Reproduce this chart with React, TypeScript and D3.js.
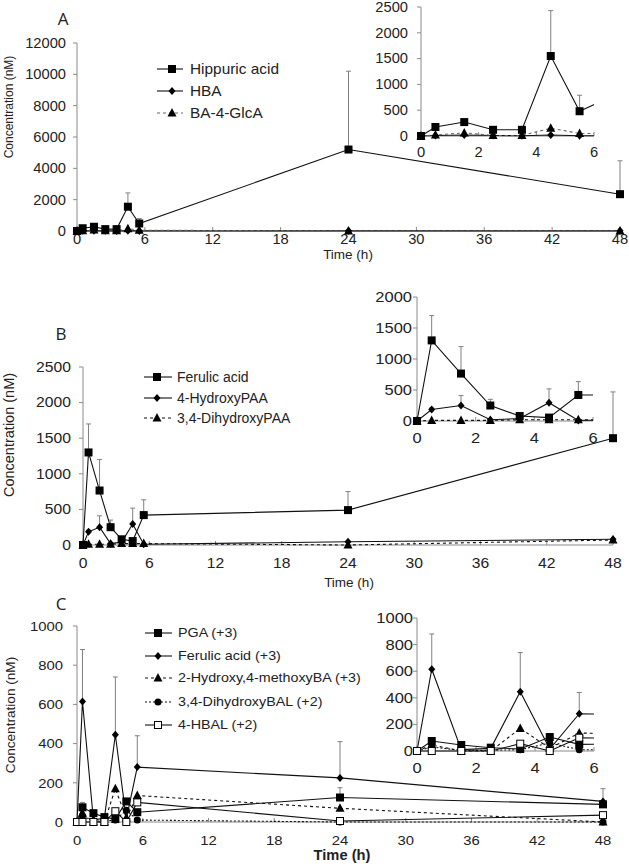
import React from 'react';
import * as d3 from 'd3';

// ---------- data ----------
const TIME = [0, 0.5, 1.5, 2.5, 3.5, 4.5, 5.5, 24, 48];
const X_TICKS = [0, 6, 12, 18, 24, 30, 36, 42, 48];
const INSET_X_TICKS = [0, 2, 4, 6];

// Panel A
const A_HIPPURIC = [0, 175, 270, 120, 120, 1550, 480, 5200, 2350];
const A_HIPPURIC_ERR = [null, null, null, null, null, 2430, 790, 10200, 4480];
const A_HBA = [0, 10, 20, 10, 5, 20, 5, 10, 10];
const A_BA4GLCA = [0, 20, 60, 10, 10, 150, 50, 0, 0];
const A_Y_TICKS = [0, 2000, 4000, 6000, 8000, 10000, 12000];
const A_INSET_Y_TICKS = [0, 500, 1000, 1500, 2000, 2500];

// Panel B
const B_FERULIC = [0, 1300, 765, 250, 80, 55, 420, 490, 1500];
const B_FERULIC_ERR = [null, 1700, 1200, 350, null, null, 635, 750, 2150];
const B_HPAA = [0, 185, 250, 20, 40, 295, 10, 45, 80];
const B_HPAA_ERR = [null, 210, 410, null, null, 518, null, null, null];
const B_DHPAA = [0, 10, 10, 10, 20, 20, 20, 0, 70];
const B_Y_TICKS = [0, 500, 1000, 1500, 2000, 2500];
const B_INSET_Y_TICKS = [0, 500, 1000, 1500, 2000];

// Panel C
const C_PGA = [0, 75, 45, 25, 15, 105, 50, 125, 90];
const C_PGA_ERR = [null, 100, null, null, null, null, null, 175, null];
const C_FERULIC = [0, 615, 10, 20, 445, 15, 280, 225, 105];
const C_FERULIC_ERR = [null, 880, null, null, 740, null, 440, 410, 170];
const C_HMBA = [0, 45, 0, 0, 170, 20, 135, 70, 0];
const C_DHBAL = [0, 30, 5, 5, 10, 60, 10, 0, 0];
const C_HBAL = [0, 0, 0, 0, 55, 0, 100, 5, 35];
const C_Y_TICKS = [0, 200, 400, 600, 800, 1000];
const C_INSET_Y_TICKS = [0, 200, 400, 600, 800, 1000];

// ---------- series definitions ----------
type Marker = 'square' | 'diamond' | 'triangle' | 'circle' | 'hollowSquare';
interface Series { name: string; values: number[]; err?: (number | null)[]; marker: Marker; dash?: string; stroke?: string; }

const SERIES_A: Series[] = [
  { name: 'Hippuric acid', values: A_HIPPURIC, err: A_HIPPURIC_ERR, marker: 'square' },
  { name: 'HBA', values: A_HBA, marker: 'diamond' },
  { name: 'BA-4-GlcA', values: A_BA4GLCA, marker: 'triangle', dash: '3,3', stroke: '#666' },
];
const SERIES_B: Series[] = [
  { name: 'Ferulic acid', values: B_FERULIC, err: B_FERULIC_ERR, marker: 'square' },
  { name: '4-HydroxyPAA', values: B_HPAA, err: B_HPAA_ERR, marker: 'diamond' },
  { name: '3,4-DihydroxyPAA', values: B_DHPAA, marker: 'triangle', dash: '3,3' },
];
const SERIES_C: Series[] = [
  { name: 'PGA (+3)', values: C_PGA, err: C_PGA_ERR, marker: 'square' },
  { name: 'Ferulic acid (+3)', values: C_FERULIC, err: C_FERULIC_ERR, marker: 'diamond' },
  { name: '2-Hydroxy,4-methoxyBA (+3)', values: C_HMBA, marker: 'triangle', dash: '3,3' },
  { name: '3,4-DihydroxyBAL (+2)', values: C_DHBAL, marker: 'circle', dash: '2,2' },
  { name: '4-HBAL (+2)', values: C_HBAL, marker: 'hollowSquare' },
];

// ---------- layout ----------
const PANELS = [
  {
    id: 'A', series: SERIES_A, letter: { x: 63, y: 18 },
    main: { x0: 77, x1: 620, y0: 231, y1: 43, yTicks: A_Y_TICKS, labelRight: 66, xLabelY: 239, fs: 14, sx: 1.05 },
    title: { x: 348, y: 254, fs: 13.5, sx: 1.0, bold: false }, ytitle: { x: 9, y: 107, fs: 12 },
    inset: { x0: 421, x1: 594, y0: 136, y1: 7, yTicks: A_INSET_Y_TICKS, labelRight: 408, xLabelY: 152, fs: 14, sx: 1.05 },
    legend: { x0: 157, x1: 183, mx: 172, tx: 190, ys: [69, 91, 113], fs: 14, sx: 1.1 },
  },
  {
    id: 'B', series: SERIES_B, letter: { x: 61, y: 333 },
    main: { x0: 83, x1: 613, y0: 545, y1: 367, yTicks: B_Y_TICKS, labelRight: 71, xLabelY: 563, fs: 14, sx: 1.12 },
    title: { x: 349, y: 582, fs: 13.5, sx: 1.0, bold: false }, ytitle: { x: 9, y: 435, fs: 14.5 },
    inset: { x0: 417, x1: 593, y0: 421, y1: 297, yTicks: B_INSET_Y_TICKS, labelRight: 412, xLabelY: 438, fs: 14, sx: 1.18 },
    legend: { x0: 144, x1: 172, mx: 157, tx: 177, ys: [377, 398, 418], fs: 14, sx: 1.0 },
  },
  {
    id: 'C', series: SERIES_C, letter: { x: 61, y: 603 },
    main: { x0: 77, x1: 603, y0: 822, y1: 626, yTicks: C_Y_TICKS, labelRight: 63, xLabelY: 840, fs: 13.5, sx: 1.1 },
    title: { x: 342, y: 855, fs: 14, sx: 1.05, bold: true }, ytitle: { x: 10, y: 715, fs: 13.6 },
    inset: { x0: 417, x1: 594, y0: 751, y1: 618, yTicks: C_INSET_Y_TICKS, labelRight: 413, xLabelY: 768, fs: 14, sx: 1.18 },
    legend: { x0: 145, x1: 172, mx: 158, tx: 178, ys: [633, 656, 678, 702, 725], fs: 13, sx: 1.1 },
  },
];

const FONT = '"Liberation Sans", Arial, sans-serif';
const AXIS = '#8a8a8a';
const TEXT = '#222';

function Txt({ x, y, fs, sx = 1, anchor = 'start', bold = false, children, family = FONT }: any) {
  return (
    <text transform={`translate(${x},${y}) scale(${sx},1)`} fontSize={fs} fontFamily={family}
      textAnchor={anchor} dominantBaseline="central" fill={TEXT} fontWeight={bold ? 'bold' : 'normal'}>
      {children}
    </text>
  );
}

function MarkerShape({ type, x, y }: { type: Marker; x: number; y: number }) {
  switch (type) {
    case 'square':
      return <rect x={x - 4} y={y - 4} width={8} height={8} fill="#000" />;
    case 'hollowSquare':
      return <rect x={x - 3.5} y={y - 3.5} width={7} height={7} fill="#fff" stroke="#000" strokeWidth={1} />;
    case 'diamond':
      return <path d={`M${x},${y - 4}L${x + 3.5},${y}L${x},${y + 4}L${x - 3.5},${y}Z`} fill="#000" />;
    case 'triangle':
      return <path d={`M${x},${y - 5}L${x + 4.5},${y + 3.5}L${x - 4.5},${y + 3.5}Z`} fill="#000" />;
    case 'circle':
      return <circle cx={x} cy={y} r={3.5} fill="#000" />;
  }
}

function Plot({ cfg, series, xMax, xTicks, clipId, xLabelsFrom }: any) {
  const x = d3.scaleLinear().domain([0, xMax]).range([cfg.x0, cfg.x1]);
  const yMax = cfg.yTicks[cfg.yTicks.length - 1];
  const y = d3.scaleLinear().domain([0, yMax]).range([cfg.y0, cfg.y1]);
  const line = d3.line<number>().x((_, i) => x(TIME[i])).y(d => y(d));
  const inRange = (t: number) => t <= xMax;
  return (
    <g>
      {clipId && (
        <defs>
          <clipPath id={clipId}>
            <rect x={cfg.x0 - 12} y={cfg.y1 - 12} width={cfg.x1 - cfg.x0 + 12} height={cfg.y0 - cfg.y1 + 24} />
          </clipPath>
        </defs>
      )}
      {/* axes */}
      <line x1={cfg.x0} x2={cfg.x0} y1={cfg.y0} y2={cfg.y1} stroke={AXIS} />
      <line x1={cfg.x0} x2={cfg.x1} y1={cfg.y0} y2={cfg.y0} stroke={AXIS} />
      {cfg.yTicks.map((t: number) => (
        <g key={'y' + t}>
          <line x1={cfg.x0 - 4} x2={cfg.x0} y1={y(t)} y2={y(t)} stroke={AXIS} />
          <Txt x={cfg.labelRight} y={y(t)} fs={cfg.fs} sx={cfg.sx} anchor="end">{t}</Txt>
        </g>
      ))}
      {xTicks.map((t: number) => (
        <g key={'x' + t}>
          <line x1={x(t)} x2={x(t)} y1={cfg.y0} y2={cfg.y0 - 4} stroke={AXIS} />
          <Txt x={x(t)} y={cfg.xLabelY} fs={cfg.fs} sx={cfg.sx} anchor="middle">{t}</Txt>
        </g>
      ))}
      <g clipPath={clipId ? `url(#${clipId})` : undefined}>
        {/* error bars */}
        {series.map((s: Series, si: number) => s.err ? s.err.map((e, i) => (e != null && inRange(TIME[i])) ? (
          <g key={`e${si}-${i}`} stroke="#808080" strokeWidth={1}>
            <line x1={x(TIME[i])} x2={x(TIME[i])} y1={y(s.values[i])} y2={y(e)} />
            <line x1={x(TIME[i]) - 2.5} x2={x(TIME[i]) + 2.5} y1={y(e)} y2={y(e)} />
          </g>
        ) : null) : null)}
        {/* lines */}
        {series.map((s: Series, si: number) => (
          <path key={'l' + si} d={line(s.values) || ''} fill="none" stroke={s.stroke || '#111'}
            strokeWidth={1.1} strokeDasharray={s.dash} />
        ))}
        {/* markers */}
        {series.map((s: Series, si: number) => s.values.map((v, i) => inRange(TIME[i]) ? (
          <MarkerShape key={`m${si}-${i}`} type={s.marker} x={x(TIME[i])} y={y(v)} />
        ) : null))}
      </g>
    </g>
  );
}

function Legend({ cfg, series }: any) {
  return (
    <g>
      {series.map((s: Series, i: number) => (
        <g key={s.name}>
          <line x1={cfg.x0} x2={cfg.x1} y1={cfg.ys[i]} y2={cfg.ys[i]} stroke={s.stroke || '#111'}
            strokeWidth={1.1} strokeDasharray={s.dash} />
          <MarkerShape type={s.marker} x={cfg.mx} y={cfg.ys[i]} />
          <Txt x={cfg.tx} y={cfg.ys[i]} fs={cfg.fs} sx={cfg.sx}>{s.name}</Txt>
        </g>
      ))}
    </g>
  );
}

export default function App() {
  return (
    <svg width={629} height={864} style={{ position: 'absolute', left: 0, top: 0, background: '#fff' }}>
      <rect width={629} height={864} fill="#fff" />
      {PANELS.map(p => (
        <g key={p.id}>
          <Txt x={p.letter.x} y={p.letter.y} fs={17} family='"Open Sans", "Noto Sans", sans-serif' anchor="middle">{p.id}</Txt>
          <Plot cfg={p.main} series={p.series} xMax={48} xTicks={X_TICKS} />
          <Txt x={p.title.x} y={p.title.y} fs={p.title.fs} sx={p.title.sx} anchor="middle" bold={p.title.bold}>Time (h)</Txt>
          <text transform={`translate(${p.ytitle.x},${p.ytitle.y}) rotate(-90)`} fontSize={p.ytitle.fs} fontFamily={FONT}
            textAnchor="middle" dominantBaseline="central" fill={TEXT}>Concentration (nM)</text>
          <Plot cfg={p.inset} series={p.series} xMax={6} xTicks={INSET_X_TICKS} clipId={'clip' + p.id} />
          <Legend cfg={p.legend} series={p.series} />
        </g>
      ))}
    </svg>
  );
}
